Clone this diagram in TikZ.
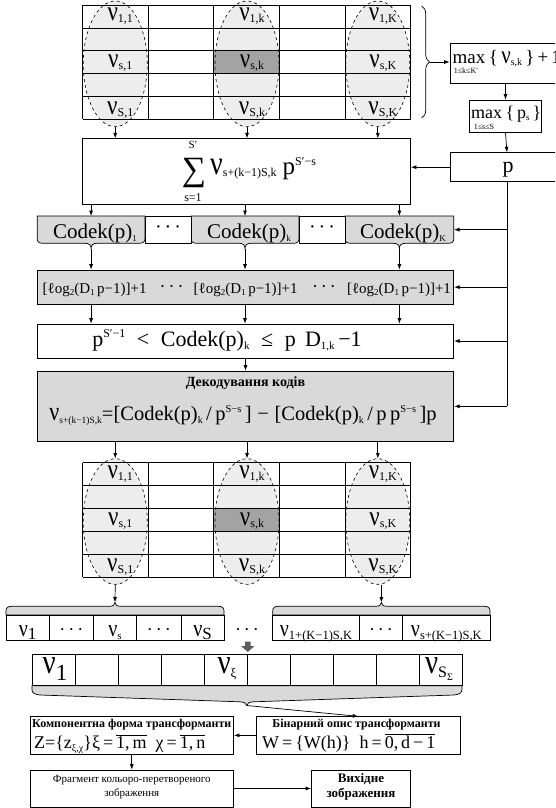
\documentclass[tikz,border=0pt]{standalone}
\usepackage{fontspec}
\usepackage{graphicx}
\setmainfont{Liberation Serif}
\usetikzlibrary{arrows.meta,shapes.geometric,decorations.pathreplacing}
\definecolor{gA}{HTML}{D9D9D9}
\definecolor{gE}{HTML}{EDEDED}
\definecolor{gD}{HTML}{A3A3A3}
\definecolor{gB}{HTML}{5F5F5F}
\newcommand\fz[1]{\fontsize{#1}{#1}\selectfont}
\newcommand\mysub[3]{\raisebox{-#1pt}{\fz{#2}#3}}
\newcommand\mysup[3]{\raisebox{#1pt}{\fz{#2}#3}}
\newcommand\nuu[1][23]{\scalebox{1}[1.2]{\fz{#1}ν}}
\newcommand\mydots[1][20]{{\fz{#1}·\kern3pt·\kern3pt·}}
\newcommand\LG{\fz{15}[ℓog\mysub{2}{9}{2}(D\mysub{2}{9}{1}\,p−1)]+1}
\begin{document}
\begin{tikzpicture}[x=1pt,y=-1pt,
  ln/.style={line width=0.7pt},
  arr/.style={-{Latex[length=5.5pt,width=4pt]},line width=0.7pt},
  bx/.style={draw,line width=0.7pt,inner sep=0pt,rectangle},
  ell/.style={ellipse,fill=gE,inner sep=0pt,minimum width=64pt,minimum height=125.7pt},
  dsh/.style={dashed,line width=0.6pt},
  tb/.style={anchor=base,inner sep=0pt},
  tw/.style={anchor=base west,inner sep=0pt}]
\useasboundingbox (0,0) rectangle (555,808);
\clip (0,0) rectangle (555,808);

% ---------- the two grids ----------
\foreach \o/\n in {0/a,457.7/b}{
  \node[ell] (e\n1) at (115.25,{\o+63.85}) {};
  \node[ell] (e\n3) at (247,{\o+63.85}) {};
  \node[ell] (e\n5) at (377.8,{\o+63.85}) {};
  \fill[gD] (214,{\o+50.72}) rectangle (280,{\o+73.58});
  \foreach \i in {0,...,5} \draw[ln] ({82.5+65.62*\i},{\o+5}) -- ({82.5+65.62*\i},{\o+119.3});
  \foreach \j in {0,...,5} \draw[ln] (82.5,{\o+5+22.86*\j}) -- (410.6,{\o+5+22.86*\j});
  \foreach \cx/\c in {115.25/1,247/k,377.8/K}{
    \draw[dsh] ({\cx},{\o+63.85}) ellipse [x radius=32pt,y radius=62.85pt];
    \node[tb] (t\n1\c) at ({\cx+5},{\o+20.5}) {\nuu\mysub{2}{12}{1,\c}};
    \node[tb] (t\n2\c) at ({\cx+5},{\o+67.5}) {\nuu\mysub{2}{12}{s,\c}};
    \node[tb] (t\n3\c) at ({\cx+5},{\o+114}) {\nuu\mysub{2}{12}{S,\c}};
  }
}

% ---------- right column ----------
\draw[ln,decorate,decoration={brace,amplitude=8pt}] (421.7,6) -- (421.7,118);
\coordinate (bt) at (430,62);
\node[bx,minimum width=125pt,minimum height=40pt] (mx) at (512.5,63) {};
\node[tw] (mx1) at (452.5,63.5) {\fz{19}max};
\node[tb] (mx2) at (466,74) {\fz{8}1≤k≤K′};
\node[tw] (mx3) at (mx1.base east) {\fz{19}\,\{\,\nuu[21]\mysub{2}{10}{s,k}\,\}\,+\,1};
\draw[arr] (bt) -- (bt -| mx.west);

\node[bx,minimum width=72.4pt,minimum height=32.7pt] (ps) at (505.5,116.35) {};
\node[tw] (ps1) at (471,118) {\fz{18}max};
\node[tb] (ps2) at (484,129) {\fz{8}1≤s≤S};
\node[tw] (ps3) at (ps1.base east) {\fz{18}\,\{\,p\mysub{2}{9}{s}\,\}};
\draw[arr] (ps.north |- mx.south) -- (ps.north);

\node[bx,minimum width=114pt,minimum height=29pt] (p) at (507,167.2) {};
\node[tb] (pt) at (508,172.5) {\fz{22}p};
\draw[arr] (ps.south) -- (p.north);

% ---------- sum box ----------
\node[bx,minimum width=328.1pt,minimum height=65.3pt] (sum) at (246.55,171.35) {};
\node[inner sep=0pt] (sg) at (194,172.5) {\fz{34}∑};
\node[inner sep=0pt] (sgu) at (193,145) {\fz{11}S′};
\node[inner sep=0pt] (sgl) at (193,197.5) {\fz{12}s=1};
\node[tw] (sf) at (210,174) {\nuu[28]\mysub{2}{12}{s+(k−1)S,k}\hspace{6pt}{\fz{25}p}\mysup{9}{12}{S′−s}};
\draw[arr] (p.west) -- (p.west -| sum.east);
\foreach \e in {1,3,5} \draw[arr] (ea\e.south) -- (ea\e.south |- sum.north);

% ---------- Codek row ----------
\foreach \a/\b/\nm in {37.2/145/1,191/299/2,345/453.8/3}{
  \filldraw[fill=gA,line width=0.7pt] (\a,216) -- (\a,238.5)
    .. controls (\a,242) and ({\a+2},243.3) .. ({\a+6},243.3)
    -- ({(\a+\b)/2-6},243.3) .. controls ({(\a+\b)/2-2},243.3) and ({(\a+\b)/2},245) .. ({(\a+\b)/2},248.5)
    .. controls ({(\a+\b)/2},245) and ({(\a+\b)/2+2},243.3) .. ({(\a+\b)/2+6},243.3)
    -- ({\b-6},243.3) .. controls ({\b-2},243.3) and (\b,242) .. (\b,238.5) -- (\b,216) -- cycle;
  \coordinate (ct\nm) at ({(\a+\b)/2},216);
  \coordinate (cb\nm) at ({(\a+\b)/2},248.5);
}
\node[bx,fill=white,minimum width=46pt,minimum height=27.3pt] (kd1) at (168,229.65) {\mydots};
\node[bx,fill=white,minimum width=46pt,minimum height=27.3pt] (kd2) at (322,229.65) {\mydots};
\node[tb] (k1) at (95,238) {\fz{21}Codek(p)\mysub{3}{9}{1}};
\node[tb] (k2) at (249,238) {\fz{21}Codek(p)\mysub{3}{9}{k}};
\node[tb] (k3) at (403,238) {\fz{21}Codek(p)\mysub{3}{9}{K}};
\node[inner sep=0pt,minimum width=416.6pt,minimum height=27.3pt] (ckrow) at (245.5,229.65) {};
\foreach \nm in {1,2,3} \draw[arr] (sum.south -| ct\nm) -- (ct\nm);

% ---------- log row ----------
\node[bx,fill=gA,minimum width=416.6pt,minimum height=34.3pt] (lg) at (245.5,287.15) {};
\node[tb] (l1) at (94.7,293) {\LG};
\node[tb] (l2) at (245.7,293) {\LG};
\node[tb] (l3) at (399,293) {\LG};
\node[inner sep=0pt] (ld1) at (171.7,289) {\mydots[18]};
\node[inner sep=0pt] (ld2) at (324,289) {\mydots[18]};
\foreach \nm in {1,2,3} \draw[arr] (cb\nm) -- (cb\nm |- lg.north);

% ---------- inequality ----------
\node[bx,minimum width=416.6pt,minimum height=34pt] (iq) at (245.5,341) {};
\node[tb] (iqt) at (227,346.5) {\fz{22}p\mysup{9}{12}{S′−1}\; <\; Codek(p)\mysub{3}{11}{k}\; ≤\; p\, D\mysub{3}{11}{1,k}\,−1};
\foreach \nm in {1,2,3} \draw[arr] (lg.south -| cb\nm) -- (iq.north -| cb\nm);

% ---------- decoding ----------
\node[bx,fill=gA,minimum width=416.6pt,minimum height=70.7pt] (dec) at (245.5,406.35) {};
\node[tb] (dect) at (245.5,386) {\fz{14}\bfseries Декодування кодів};
\node[tb] (decf) at (243,420) {\nuu[22]\mysub{3}{9.5}{s+(k−1)S,k}\fz{20.5}=[Codek(p)\mysub{3}{10}{k}\,/\,p\mysup{8}{10.5}{S−s}\,]\;−\;[Codek(p)\mysub{3}{10}{k}\,/\,p\,p\mysup{8}{10.5}{S−s}\,]p};
\draw[arr] (iq.south) -- (dec.north);

% feedback line from p
\draw[ln] (p.south) -- (p.south |- dec.east);
\draw[arr] (p.south |- ckrow.east) -- (ckrow.east);
\draw[arr] (p.south |- lg.east) -- (lg.east);
\draw[arr] (p.south |- iq.east) -- (iq.east);
\draw[arr] (p.south |- dec.east) -- (dec.east);
\foreach \e in {1,3,5} \draw[arr] (dec.south -| eb\e.north) -- (eb\e.north);

% ---------- groups ----------
\foreach \a/\b/\nm in {6/224/1,272.7/490/2}{
  \filldraw[fill=gA,line width=0.7pt] (\a,615) -- (\a,611)
    .. controls (\a,607.5) and ({\a+2},606.3) .. ({\a+6},606.3)
    -- ({(\a+\b)/2-6},606.3) .. controls ({(\a+\b)/2-2},606.3) and ({(\a+\b)/2},605) .. ({(\a+\b)/2},602.5)
    .. controls ({(\a+\b)/2},605) and ({(\a+\b)/2+2},606.3) .. ({(\a+\b)/2+6},606.3)
    -- ({\b-6},606.3) .. controls ({\b-2},606.3) and (\b,607.5) .. (\b,611) -- (\b,615) -- cycle;
  \coordinate (gt\nm) at ({(\a+\b)/2},602.5);
}
\draw[ln] (6,615) rectangle (224,640);
\foreach \x in {49.3,93.3,136.7,181} \draw[ln] (\x,615) -- (\x,640);
\draw[ln] (272.7,615) rectangle (490,640);
\foreach \x in {359.3,402.7} \draw[ln] (\x,615) -- (\x,640);
\draw[arr] (eb1.south) -- (gt1);
\draw[arr] (gt2 |- eb5.south) -- (gt2);
\node[tb] (g1) at (27.65,636) {\nuu[20]\mysub{3}{17}{1}};
\node[inner sep=0pt] (g2) at (71.3,632) {\mydots[18]};
\node[tb] (g3) at (115,636) {\nuu[20]\mysub{3}{11}{s}};
\node[inner sep=0pt] (g4) at (158.85,632) {\mydots[18]};
\node[tb] (g5) at (202.5,636) {\nuu[20]\mysub{3}{17}{S}};
\node[inner sep=0pt] (gm) at (247,632) {\mydots[18]};
\node[tb] (g6) at (316,636) {\nuu[20]\mysub{3}{12.5}{1+(K−1)S,K}};
\node[inner sep=0pt] (g7) at (381,632) {\mydots[18]};
\node[tb] (g8) at (446.35,636) {\nuu[20]\mysub{3}{12.5}{s+(K−1)S,K}};

% block arrow
\fill[gB] (245,641.5) -- (250.6,641.5) -- (250.6,646) -- (254.5,646) -- (247.8,652) -- (241,646) -- (245,646) -- cycle;

% ---------- long row ----------
\filldraw[fill=gA,line width=0.7pt] (31.9,685.7) -- (31.9,689.5)
  .. controls (31.9,693) and (35,694.5) .. (40,695) -- (240,701.8)
  .. controls (244,702.2) and (246.7,703) .. (246.7,705.5)
  .. controls (246.7,703) and (249.4,702.2) .. (253.4,701.8) -- (454,695)
  .. controls (459,694.5) and (462,693) .. (462,689.5) -- (462,685.7) -- cycle;
\coordinate (ltip) at (246.7,705.5);
\draw[ln] (31.9,654) rectangle (462,685.7);
\foreach \i in {1,...,9} \draw[ln] ({31.9+43.01*\i},654) -- ({31.9+43.01*\i},685.7);
\node[tb] (r1) at (55,673) {\nuu[29]\mysub{7}{23}{1}};
\node[tb] (r5) at (227,673) {\nuu[29]\mysub{4}{13}{ξ}};
\node[tb] (r10) at (439,673) {\nuu[29]\mysub{4}{16}{S\mysub{3}{10}{Σ}}};

% ---------- bottom boxes ----------
\node[bx,minimum width=203.6pt,minimum height=37.3pt] (komp) at (131.8,735.35) {};
\node[tb] (kt) at (131.8,727) {\fz{12}\bfseries Компонентна форма трансформанти};
\node[tw] (kf) at (34,748) {\fz{18}Z=\{z\mysub{3}{10}{ξ,χ}\}ξ\,=\,$\overline{\hbox{1,\,m}}$\enspace χ\,=\,$\overline{\hbox{1,\,n}}$};
\node[bx,minimum width=203.4pt,minimum height=37.3pt] (bin) at (358.3,735.35) {};
\node[tb] (bt1) at (356.5,727) {\fz{12}\bfseries Бінарний опис трансформанти};
\node[tw] (bf) at (262,748) {\fz{18}W\,=\,\{W(h)\}\enspace h\,=\,$\overline{\hbox{0,\,d\,−\,1}}$};
\node[bx,minimum width=203.6pt,minimum height=37pt] (frag) at (131.8,788.5) {};
\node[inner sep=0pt,align=center,font={\fontsize{11}{13.5}\selectfont}] (ft) at (131.8,787) {Фрагмент кольоро-перетвореного\\зображення};
\node[bx,minimum width=99.1pt,minimum height=37pt] (vyh) at (361,788.5) {};
\node[inner sep=0pt,align=center,font={\fontsize{13}{15}\selectfont\bfseries}] (vt) at (361,787) {Вихідне\\зображення};
\draw[arr] (ltip) -- (bin.north);
\draw[arr] (bin.west) -- (komp.east);
\draw[arr] (komp.south) -- (frag.north);
\draw[arr] (frag.east) -- (vyh.west);
\end{tikzpicture}
\end{document}
